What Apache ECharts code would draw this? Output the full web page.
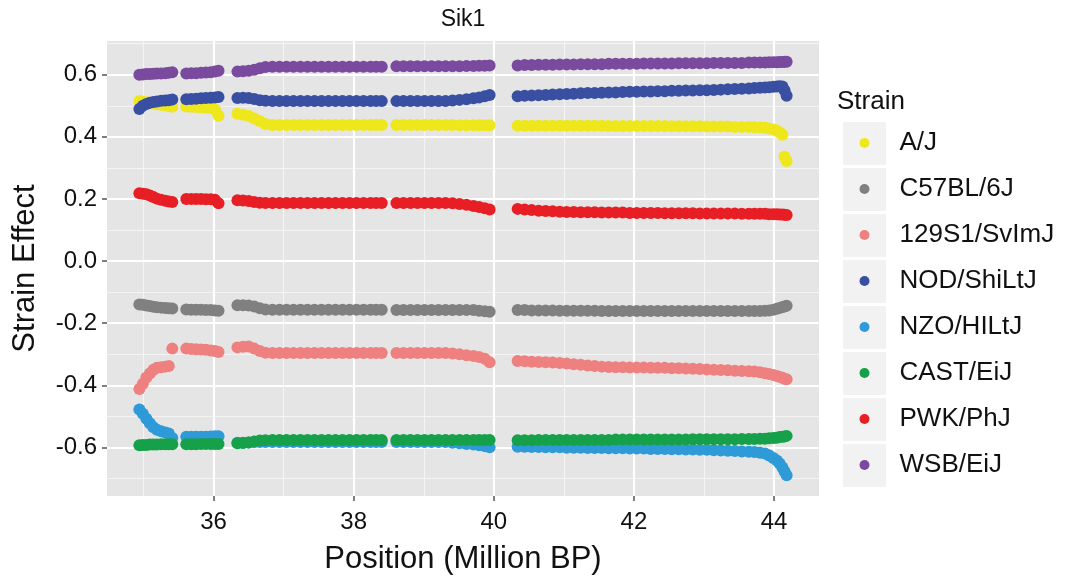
<!DOCTYPE html>
<html>
<head>
<meta charset="utf-8">
<script src="https://cdn.jsdelivr.net/npm/echarts@6/dist/echarts.min.js"></script>
<style>
html,body{margin:0;padding:0;background:#fff;}
#chart{width:1066px;height:584px;}
</style>
</head>
<body>
<div id="chart"></div>
<script>
// ---------------- DATA ----------------
const chartTitle = 'Sik1';
const legendTitle = 'Strain';
const xAxisName = 'Position (Million BP)';
const yAxisName = 'Strain Effect';
const strains = ['A/J', 'C57BL/6J', '129S1/SvImJ', 'NOD/ShiLtJ', 'NZO/HILtJ', 'CAST/EiJ', 'PWK/PhJ', 'WSB/EiJ'];
const xTicks = [36, 38, 40, 42, 44];
const xMinorTicks = [35, 37, 39, 41, 43];
const yTicks = [-0.6, -0.4, -0.2, 0.0, 0.2, 0.4, 0.6];
const yMinorTicks = [-0.7, -0.5, -0.3, -0.1, 0.1, 0.3, 0.5, 0.7];

// marker positions (Million BP)
const positions = [
  34.94, 34.99, 35.04, 35.09, 35.14, 35.19, 35.25, 35.31, 35.36, 35.41,
  35.61, 35.68, 35.75, 35.82, 35.89, 35.96, 36.02, 36.07,
  36.34, 36.42, 36.50, 36.58, 36.66, 36.74, 36.84, 36.94, 37.04, 37.14, 37.24, 37.34, 37.44, 37.54, 37.64, 37.74, 37.84, 37.94, 38.04, 38.14, 38.24, 38.32, 38.40,
  38.61, 38.71, 38.81, 38.91, 39.01, 39.11, 39.21, 39.31, 39.41, 39.51, 39.61, 39.71, 39.79, 39.87, 39.94,
  40.34, 40.44, 40.54, 40.64, 40.74, 40.84, 40.94, 41.04, 41.14, 41.24,
  41.34, 41.44, 41.54, 41.64, 41.74, 41.84, 41.94, 42.04, 42.14, 42.24,
  42.34, 42.44, 42.54, 42.64, 42.74, 42.84, 42.94, 43.04, 43.14, 43.24,
  43.34, 43.44, 43.54, 43.64,
  43.72, 43.80, 43.87, 43.93, 43.99, 44.04, 44.08, 44.12, 44.15, 44.18
];

const effAJ = [
  0.515, 0.513, 0.511, 0.509, 0.507, 0.505, 0.503, 0.501, 0.499, 0.497,
  0.498, 0.497, 0.496, 0.495, 0.494, 0.493, 0.488, 0.468,
  0.474, 0.471, 0.467, 0.459, 0.450, 0.441, 0.438, 0.438, 0.438, 0.438, 0.438, 0.438, 0.438, 0.438, 0.438, 0.438, 0.438, 0.438, 0.438, 0.438, 0.438, 0.438, 0.438,
  0.438, 0.438, 0.438, 0.438, 0.438, 0.438, 0.438, 0.438, 0.438, 0.437, 0.437, 0.437, 0.437, 0.437, 0.437,
  0.436, 0.436, 0.436, 0.436, 0.436, 0.436, 0.436, 0.436, 0.436, 0.436,
  0.436, 0.436, 0.436, 0.435, 0.435, 0.435, 0.435, 0.435, 0.435, 0.435,
  0.435, 0.435, 0.434, 0.434, 0.434, 0.434, 0.434, 0.433, 0.433, 0.433,
  0.433, 0.432, 0.432, 0.432,
  0.431, 0.430, 0.429, 0.427, 0.424, 0.420, 0.414, 0.407, 0.336, 0.322
];
const effC57 = [
  -0.140, -0.141, -0.143, -0.145, -0.147, -0.149, -0.150, -0.151, -0.152, -0.153,
  -0.156, -0.157, -0.157, -0.157, -0.158, -0.158, -0.159, -0.160,
  -0.142, -0.142, -0.143, -0.146, -0.152, -0.156, -0.157, -0.157, -0.157, -0.157, -0.157, -0.157, -0.157, -0.157, -0.157, -0.157, -0.157, -0.157, -0.157, -0.157, -0.157, -0.157, -0.157,
  -0.158, -0.158, -0.158, -0.158, -0.158, -0.158, -0.158, -0.158, -0.158, -0.158, -0.158, -0.158, -0.160, -0.162, -0.163,
  -0.158, -0.158, -0.159, -0.159, -0.159, -0.159, -0.160, -0.160, -0.160, -0.160,
  -0.160, -0.160, -0.161, -0.161, -0.161, -0.161, -0.161, -0.161, -0.161, -0.161,
  -0.161, -0.161, -0.161, -0.161, -0.161, -0.161, -0.161, -0.161, -0.161, -0.161,
  -0.161, -0.161, -0.161, -0.161,
  -0.161, -0.161, -0.160, -0.159, -0.157, -0.154, -0.151, -0.148, -0.146, -0.144
];
const eff129 = [
  -0.412, -0.395, -0.375, -0.362, -0.350, -0.344, -0.342, -0.340, -0.338, -0.282,
  -0.282, -0.283, -0.284, -0.285, -0.286, -0.288, -0.290, -0.293,
  -0.278, -0.276, -0.275, -0.282, -0.290, -0.295, -0.296, -0.296, -0.296, -0.296, -0.296, -0.296, -0.296, -0.296, -0.296, -0.296, -0.296, -0.296, -0.296, -0.296, -0.296, -0.296, -0.296,
  -0.296, -0.296, -0.296, -0.296, -0.296, -0.296, -0.296, -0.296, -0.298, -0.300, -0.303, -0.306, -0.309, -0.315, -0.326,
  -0.322, -0.323, -0.324, -0.325, -0.326, -0.327, -0.328, -0.330, -0.332, -0.334,
  -0.336, -0.338, -0.340, -0.341, -0.342, -0.342, -0.343, -0.343, -0.343, -0.344,
  -0.344, -0.344, -0.345, -0.345, -0.346, -0.347, -0.348, -0.349, -0.350, -0.351,
  -0.352, -0.353, -0.354, -0.355,
  -0.356, -0.358, -0.361, -0.364, -0.367, -0.370, -0.373, -0.376, -0.379, -0.381
];
const effNOD = [
  0.490, 0.500, 0.506, 0.510, 0.512, 0.514, 0.516, 0.517, 0.518, 0.520,
  0.521, 0.522, 0.523, 0.524, 0.525, 0.526, 0.527, 0.528,
  0.525, 0.526, 0.525, 0.522, 0.518, 0.516, 0.515, 0.515, 0.515, 0.515, 0.515, 0.515, 0.515, 0.515, 0.515, 0.515, 0.515, 0.515, 0.515, 0.515, 0.515, 0.515, 0.515,
  0.515, 0.515, 0.515, 0.515, 0.515, 0.515, 0.515, 0.515, 0.517, 0.519, 0.521, 0.524, 0.527, 0.531, 0.535,
  0.531, 0.532, 0.533, 0.534, 0.535, 0.536, 0.537, 0.538, 0.539, 0.540,
  0.541, 0.541, 0.542, 0.543, 0.543, 0.544, 0.545, 0.545, 0.546, 0.546,
  0.547, 0.547, 0.548, 0.548, 0.549, 0.549, 0.550, 0.550, 0.551, 0.552,
  0.553, 0.554, 0.555, 0.556,
  0.557, 0.558, 0.559, 0.560, 0.561, 0.562, 0.563, 0.562, 0.550, 0.532
];
const effNZO = [
  -0.478, -0.492, -0.508, -0.522, -0.535, -0.543, -0.548, -0.552, -0.555, -0.570,
  -0.566, -0.566, -0.566, -0.566, -0.566, -0.565, -0.564, -0.564,
  -0.585, -0.585, -0.584, -0.583, -0.583, -0.583, -0.583, -0.583, -0.583, -0.583, -0.583, -0.583, -0.583, -0.583, -0.583, -0.583, -0.583, -0.583, -0.583, -0.583, -0.583, -0.583, -0.583,
  -0.583, -0.583, -0.583, -0.583, -0.583, -0.583, -0.583, -0.583, -0.585, -0.587, -0.589, -0.591, -0.593, -0.596, -0.600,
  -0.598, -0.598, -0.599, -0.599, -0.600, -0.600, -0.600, -0.601, -0.601, -0.601,
  -0.602, -0.602, -0.602, -0.603, -0.603, -0.603, -0.604, -0.604, -0.604, -0.605,
  -0.605, -0.605, -0.606, -0.606, -0.607, -0.607, -0.608, -0.608, -0.609, -0.610,
  -0.611, -0.612, -0.613, -0.614,
  -0.615, -0.617, -0.620, -0.626, -0.634, -0.642, -0.652, -0.665, -0.678, -0.690
];
const effCAST = [
  -0.593, -0.592, -0.592, -0.591, -0.591, -0.591, -0.590, -0.590, -0.590, -0.590,
  -0.590, -0.590, -0.590, -0.589, -0.589, -0.589, -0.589, -0.589,
  -0.587, -0.586, -0.584, -0.581, -0.578, -0.577, -0.576, -0.576, -0.576, -0.576, -0.576, -0.576, -0.576, -0.576, -0.576, -0.576, -0.576, -0.576, -0.576, -0.576, -0.576, -0.576, -0.576,
  -0.576, -0.576, -0.576, -0.576, -0.576, -0.576, -0.576, -0.576, -0.576, -0.576, -0.576, -0.576, -0.576, -0.576, -0.576,
  -0.577, -0.577, -0.577, -0.576, -0.576, -0.576, -0.576, -0.576, -0.576, -0.576,
  -0.576, -0.576, -0.576, -0.576, -0.575, -0.575, -0.575, -0.575, -0.575, -0.575,
  -0.575, -0.575, -0.575, -0.575, -0.575, -0.574, -0.574, -0.574, -0.574, -0.574,
  -0.574, -0.574, -0.573, -0.573,
  -0.573, -0.572, -0.572, -0.571, -0.570, -0.569, -0.567, -0.566, -0.565, -0.563
];
const effPWK = [
  0.218, 0.217, 0.215, 0.211, 0.206, 0.201, 0.197, 0.194, 0.192, 0.190,
  0.200, 0.200, 0.200, 0.200, 0.199, 0.199, 0.197, 0.186,
  0.196, 0.195, 0.193, 0.190, 0.188, 0.187, 0.187, 0.187, 0.187, 0.187, 0.187, 0.187, 0.187, 0.187, 0.187, 0.187, 0.187, 0.187, 0.187, 0.187, 0.187, 0.187, 0.187,
  0.187, 0.187, 0.187, 0.187, 0.187, 0.187, 0.187, 0.187, 0.186, 0.184, 0.181, 0.177, 0.174, 0.170, 0.166,
  0.168, 0.166, 0.164, 0.162, 0.161, 0.160, 0.159, 0.158, 0.158, 0.157,
  0.157, 0.157, 0.156, 0.156, 0.156, 0.156, 0.155, 0.155, 0.155, 0.155,
  0.155, 0.154, 0.154, 0.154, 0.154, 0.154, 0.153, 0.153, 0.153, 0.153,
  0.153, 0.153, 0.152, 0.152,
  0.152, 0.152, 0.152, 0.151, 0.151, 0.151, 0.150, 0.150, 0.149, 0.148
];
const effWSB = [
  0.600, 0.601, 0.602, 0.602, 0.603, 0.604, 0.604, 0.605, 0.606, 0.608,
  0.604, 0.605, 0.605, 0.606, 0.607, 0.608, 0.610, 0.613,
  0.610, 0.611, 0.613, 0.616, 0.621, 0.625, 0.626, 0.626, 0.626, 0.626, 0.626, 0.626, 0.626, 0.626, 0.626, 0.626, 0.626, 0.626, 0.626, 0.626, 0.626, 0.626, 0.626,
  0.627, 0.627, 0.627, 0.627, 0.627, 0.627, 0.627, 0.627, 0.627, 0.627, 0.628, 0.628, 0.629, 0.629, 0.630,
  0.630, 0.631, 0.631, 0.632, 0.632, 0.632, 0.633, 0.633, 0.633, 0.634,
  0.634, 0.634, 0.634, 0.635, 0.635, 0.635, 0.635, 0.635, 0.636, 0.636,
  0.636, 0.636, 0.636, 0.637, 0.637, 0.637, 0.637, 0.637, 0.638, 0.638,
  0.638, 0.638, 0.638, 0.639,
  0.639, 0.639, 0.639, 0.640, 0.640, 0.640, 0.641, 0.641, 0.642, 0.642
];
const effects = [effAJ, effC57, eff129, effNOD, effNZO, effCAST, effPWK, effWSB];

// ---------------- STYLE ----------------
const colors = ['#EEE71C', '#808080', '#EF8080', '#394FA2', '#2F9AD8', '#16A04A', '#E81E25', '#7A4A9E'];
const FONT = '"Liberation Sans", Arial, Helvetica, sans-serif';
const textColor = '#111111';

// ggplot-like 5% expansion of the data range
function expanded(values) {
  const lo = Math.min(...values), hi = Math.max(...values);
  const pad = (hi - lo) * 0.05;
  return [lo - pad, hi + pad];
}
const xr = expanded(positions);
const yr = expanded([].concat(...effects));

const GRID = { left: 107, right: 247, top: 41, bottom: 88 };

const series = strains.map((name, i) => ({
  name: name,
  type: 'scatter',
  xAxisIndex: 0,
  yAxisIndex: 0,
  symbol: 'circle',
  symbolSize: 12,
  itemStyle: { color: colors[i], opacity: 1 },
  emphasis: { disabled: true },
  data: positions.map((p, k) => [p, effects[i][k]]),
  z: 2
}));

const option = {
  animation: false,
  backgroundColor: '#ffffff',
  textStyle: { fontFamily: FONT },
  title: [
    { text: chartTitle, left: 463, top: 8, textAlign: 'center', padding: 0,
      textStyle: { fontFamily: FONT, fontSize: 23, fontWeight: 'normal', color: textColor } },
    { text: legendTitle, left: 837, top: 89, padding: 0,
      textStyle: { fontFamily: FONT, fontSize: 26, fontWeight: 'normal', color: textColor } }
  ],
  grid: { left: GRID.left, right: GRID.right, top: GRID.top, bottom: GRID.bottom,
          show: true, backgroundColor: '#E5E5E5', borderWidth: 0 },
  legend: [
    { // key backgrounds
      data: strains, orient: 'vertical', left: 843, top: 122, padding: 0,
      icon: 'rect', itemWidth: 43, itemHeight: 43, itemGap: 3,
      itemStyle: { color: '#F2F2F2', borderWidth: 0 },
      formatter: () => '', selectedMode: false,
      textStyle: { fontSize: 1 }
    },
    { // dots and labels
      data: strains, orient: 'vertical', left: 859.5, top: 120, padding: 0,
      icon: 'circle', itemWidth: 10, itemHeight: 10, itemGap: 0,
      selectedMode: false,
      textStyle: { fontFamily: FONT, fontSize: 26, color: textColor, lineHeight: 46, padding: [0, 0, 0, 25] }
    }
  ],
  xAxis: [
    {
      type: 'value', gridIndex: 0, position: 'bottom',
      min: xr[0], max: xr[1],
      name: xAxisName, nameLocation: 'middle', nameGap: 48,
      nameTextStyle: { fontFamily: FONT, fontSize: 31, color: textColor },
      axisLine: { show: false, onZero: false },
      axisTick: { show: true, customValues: xTicks, length: 5, lineStyle: { color: '#7F7F7F', width: 2 } },
      axisLabel: { customValues: xTicks, margin: 14, fontFamily: FONT, fontSize: 24, color: textColor },
      splitLine: { show: true, lineStyle: { color: '#FFFFFF', width: 2.2 } },
      z: 1
    },
    {
      type: 'value', gridIndex: 0, position: 'top',
      min: xr[0], max: xr[1],
      axisLine: { show: false, onZero: false },
      axisTick: { show: false, customValues: xMinorTicks },
      axisLabel: { show: false, customValues: xMinorTicks },
      splitLine: { show: true, lineStyle: { color: '#F4F4F4', width: 1.2 } },
      z: 0
    }
  ],
  yAxis: [
    {
      type: 'value', gridIndex: 0, position: 'left',
      min: yr[0], max: yr[1],
      name: yAxisName, nameLocation: 'middle', nameGap: 66, nameRotate: 90,
      nameTextStyle: { fontFamily: FONT, fontSize: 31, color: textColor },
      axisLine: { show: false, onZero: false },
      axisTick: { show: true, customValues: yTicks, length: 5, lineStyle: { color: '#7F7F7F', width: 2 } },
      axisLabel: { customValues: yTicks, margin: 10, fontFamily: FONT, fontSize: 24, color: textColor,
                   formatter: v => Number(v).toFixed(1) },
      splitLine: { show: true, lineStyle: { color: '#FFFFFF', width: 2.2 } },
      z: 1
    },
    {
      type: 'value', gridIndex: 0, position: 'right',
      min: yr[0], max: yr[1],
      axisLine: { show: false, onZero: false },
      axisTick: { show: false, customValues: yMinorTicks },
      axisLabel: { show: false, customValues: yMinorTicks },
      splitLine: { show: true, lineStyle: { color: '#F4F4F4', width: 1.2 } },
      z: 0
    }
  ],
  series: series
};

const chart = echarts.init(document.getElementById('chart'), null, { renderer: 'canvas' });
chart.setOption(option);
</script>
</body>
</html>
